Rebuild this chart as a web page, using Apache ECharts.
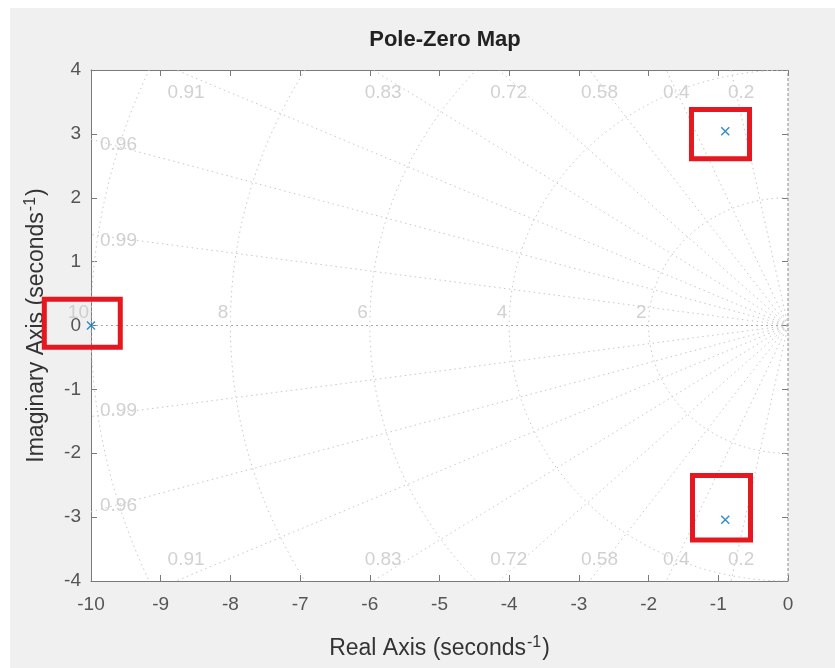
<!DOCTYPE html>
<html>
<head>
<meta charset="utf-8">
<script src="https://cdn.jsdelivr.net/npm/echarts@6/dist/echarts.min.js"></script>
<style>
  html, body { margin: 0; padding: 0; background: #ffffff; }
  #chart { width: 835px; height: 668px; }
</style>
</head>
<body>
<div id="chart"></div>
<script>
// Axis ranges and ticks
const xMin = -10, xMax = 0, xStep = 1;
const yMin = -4, yMax = 4, yStep = 1;

// Poles of the system (real, imaginary)
const poleReal = [-10, -0.9, -0.9];
const poleImag = [0, 3.04, -3.04];

// Damping-ratio grid rays and their labels
const zetaValues = [0.2, 0.4, 0.58, 0.72, 0.83, 0.91, 0.96, 0.99];
const zetaLabels = ['0.2', '0.4', '0.58', '0.72', '0.83', '0.91', '0.96', '0.99'];

// Natural-frequency grid arcs and their labels
const wnValues = [2, 4, 6, 8, 10];
const wnLabels = ['2', '4', '6', '8', '10'];

// Highlight boxes around the poles: [xFrom, xTo, yFrom, yTo]
const boxXFrom = [-10.67, -1.385, -1.37];
const boxXTo = [-9.58, -0.552, -0.538];
const boxYFrom = [-0.34, 2.61, -3.36];
const boxYTo = [0.41, 3.38, -2.35];

const gridColor = '#c8c8c8';
const gridLabelColor = '#c6c6c6';
const font = '"Liberation Sans", Arial, Helvetica, sans-serif';
const dotted = [1.5, 3.5];

// --- grid geometry --------------------------------------------------------
const gridSeries = [];
const rayLabelData = [];

zetaValues.forEach((z, i) => {
  const th = Math.acos(z);
  const c = Math.cos(th), s = Math.sin(th);
  const t = Math.min((xMax - xMin) / c, yMax / s);
  const ex = -c * t, ey = s * t;
  const hitsTop = (yMax / s) <= ((xMax - xMin) / c);
  [1, -1].forEach(sign => {
    gridSeries.push({
      type: 'line', silent: true, symbol: 'none', clip: true, z: 1,
      lineStyle: { color: gridColor, width: 1, type: dotted },
      data: [[0, 0], [ex, sign * ey]]
    });
    if (hitsTop) {
      rayLabelData.push({
        value: [ex, sign * ey],
        label: { formatter: zetaLabels[i], align: 'center', verticalAlign: 'middle',
                 offset: [10, sign > 0 ? 23 : -21] }
      });
    } else {
      rayLabelData.push({
        value: [ex, sign * ey],
        label: { formatter: zetaLabels[i], align: 'left', verticalAlign: 'middle',
                 offset: [9, sign > 0 ? 6 : -6] }
      });
    }
  });
});

// real axis (zeta = 1) and imaginary axis (zeta = 0)
gridSeries.push({
  type: 'line', silent: true, symbol: 'none', clip: false, z: 1,
  lineStyle: { color: '#a8a8a8', width: 1, type: [2, 3] },
  data: [[xMin, 0], [xMax, 0]]
});
gridSeries.push({
  type: 'line', silent: true, symbol: 'none', clip: false, z: 3,
  lineStyle: { color: '#8c8c8c', width: 1, type: [3, 2] },
  data: [[xMax, yMin], [xMax, yMax]]
});

const arcLabelData = [];
wnValues.forEach((w, i) => {
  const pts = [];
  for (let k = 0; k <= 180; k++) {
    const a = Math.PI / 2 + Math.PI * k / 180;
    pts.push([w * Math.cos(a), w * Math.sin(a)]);
  }
  gridSeries.push({
    type: 'line', silent: true, symbol: 'none', clip: true, z: 1,
    lineStyle: { color: gridColor, width: 1, type: dotted },
    data: pts
  });
  arcLabelData.push({
    value: [-w, 0],
    label: { formatter: wnLabels[i], align: 'right', verticalAlign: 'middle', offset: [-2, -13] }
  });
});

const labelSeries = [
  {
    type: 'scatter', silent: true, symbolSize: 0, z: 2,
    label: { show: true, color: gridLabelColor, fontSize: 19, fontFamily: font },
    data: rayLabelData
  },
  {
    type: 'scatter', silent: true, symbolSize: 0, z: 2,
    label: { show: true, color: gridLabelColor, fontSize: 19, fontFamily: font },
    data: arcLabelData
  }
];

// --- poles -----------------------------------------------------------------
const poleSeries = {
  type: 'scatter', name: 'poles', z: 5, clip: false,
  symbol: 'path://M0,0L10,10M10,0L0,10',
  symbolSize: 8,
  itemStyle: { color: 'none', borderColor: '#0072BD', borderWidth: 1.5 },
  data: poleReal.map((x, i) => [x, poleImag[i]])
};

// --- highlight boxes ---------------------------------------------------------
const boxSeries = {
  type: 'custom', z: 10, clip: false, silent: true,
  data: boxXFrom.map((x, i) => [x, boxXTo[i], boxYFrom[i], boxYTo[i]]),
  encode: { x: [0, 1], y: [2, 3] },
  renderItem: function (params, api) {
    const p1 = api.coord([api.value(0), api.value(3)]);
    const p2 = api.coord([api.value(1), api.value(2)]);
    return {
      type: 'rect',
      shape: { x: p1[0], y: p1[1], width: p2[0] - p1[0], height: p2[1] - p1[1] },
      style: { fill: 'none', stroke: '#e5171f', lineWidth: 5 }
    };
  }
};

const tickLabel = { color: '#555555', fontSize: 19, fontFamily: font };
const axisLineStyle = { color: '#7a7a7a', width: 1 };

const nameRich = {
  a: { fontSize: 23, color: '#333333', fontFamily: font, lineHeight: 28 },
  s: { fontSize: 16, color: '#333333', fontFamily: font, verticalAlign: 'top', lineHeight: 28, padding: [0, 1, 0, 1] }
};

const chart = echarts.init(document.getElementById('chart'), null, { renderer: 'canvas' });
chart.setOption({
  animation: false,
  backgroundColor: '#ffffff',
  graphic: [{
    type: 'rect', z: -10, silent: true,
    shape: { x: 10, y: 8, width: 825, height: 660 },
    style: { fill: '#f0f0f0' }
  }],
  title: {
    text: 'Pole-Zero Map',
    left: 440, top: 24, textAlign: 'center',
    textStyle: { fontSize: 22, fontWeight: 'bold', color: '#222222', fontFamily: font }
  },
  grid: {
    left: 91, top: 70, right: 47, bottom: 87,
    show: true, backgroundColor: '#ffffff', borderWidth: 0
  },
  xAxis: [
    {
      type: 'value', min: xMin, max: xMax, interval: xStep, position: 'bottom',
      axisLine: { show: true, onZero: false, lineStyle: axisLineStyle },
      axisTick: { show: true, inside: true, length: 6, lineStyle: axisLineStyle },
      axisLabel: Object.assign({ margin: 14 }, tickLabel),
      splitLine: { show: false },
      name: '{a|Real Axis (seconds}{s|-1}{a|)}',
      nameLocation: 'middle', nameGap: 54,
      nameTextStyle: { rich: nameRich }
    },
    {
      type: 'value', min: xMin, max: xMax, interval: xStep, position: 'top',
      axisLine: { show: true, onZero: false, lineStyle: axisLineStyle },
      axisTick: { show: true, inside: true, length: 6, lineStyle: axisLineStyle },
      axisLabel: { show: false },
      splitLine: { show: false }
    }
  ],
  yAxis: [
    {
      type: 'value', min: yMin, max: yMax, interval: yStep, position: 'left',
      axisLine: { show: true, onZero: false, lineStyle: axisLineStyle },
      axisTick: { show: true, inside: true, length: 6, lineStyle: axisLineStyle },
      axisLabel: Object.assign({ margin: 10 }, tickLabel),
      splitLine: { show: false },
      name: '{a|Imaginary Axis (seconds}{s|-1}{a|)}',
      nameLocation: 'middle', nameGap: 40, nameRotate: 90,
      nameTextStyle: { rich: nameRich }
    },
    {
      type: 'value', min: yMin, max: yMax, interval: yStep, position: 'right',
      axisLine: { show: false, onZero: false },
      axisTick: { show: true, inside: true, length: 6, lineStyle: axisLineStyle },
      axisLabel: { show: false },
      splitLine: { show: false }
    }
  ],
  series: gridSeries.concat(labelSeries, [poleSeries, boxSeries])
});
</script>
</body>
</html>
